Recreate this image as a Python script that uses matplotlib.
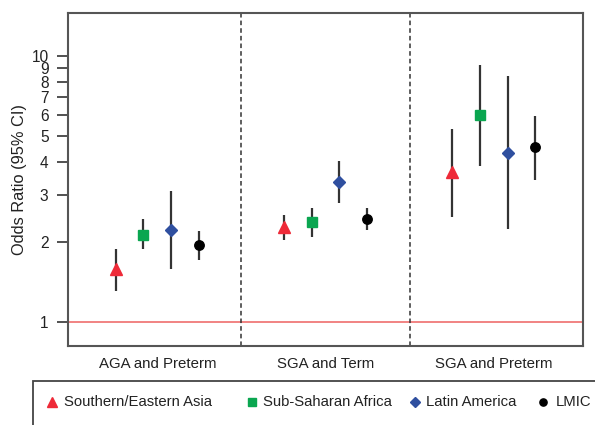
import numpy as np
import matplotlib
matplotlib.use("Agg")
import matplotlib.pyplot as plt
from matplotlib.patches import Rectangle
from matplotlib.lines import Line2D

plt.rcParams["font.family"] = ["Liberation Sans", "DejaVu Sans"]

groups = ["AGA and Preterm", "SGA and Term", "SGA and Preterm"]
regions = ["Southern/Eastern Asia", "Sub-Saharan Africa", "Latin America", "LMIC"]

# odds ratios and 95% CI per region, one value per group
or_asia = [1.58, 2.28, 3.66]
lo_asia = [1.31, 2.03, 2.48]
hi_asia = [1.88, 2.53, 5.32]

or_africa = [2.12, 2.38, 6.0]
lo_africa = [1.88, 2.09, 3.86]
hi_africa = [2.44, 2.68, 9.25]

or_latam = [2.22, 3.36, 4.32]
lo_latam = [1.58, 2.80, 2.24]
hi_latam = [3.11, 4.03, 8.41]

or_lmic = [1.95, 2.44, 4.55]
lo_lmic = [1.70, 2.22, 3.42]
hi_lmic = [2.20, 2.68, 5.95]

yticks = [1, 2, 3, 4, 5, 6, 7, 8, 9, 10]

# (values, low, high, marker, colour, plot size, legend size)
series = [
    (or_asia, lo_asia, hi_asia, "^", "#ee2a38", 8.8, 6.8),
    (or_africa, lo_africa, hi_africa, "s", "#0aa650", 7.2, 5.2),
    (or_latam, lo_latam, hi_latam, "D", "#2f4f9f", 6.2, 4.8),
    (or_lmic, lo_lmic, hi_lmic, "o", "black", 6.8, 5.2),
]

fig = plt.figure(figsize=(5.95, 4.25), dpi=100)
ax = fig.add_axes([68 / 595, 1 - 346 / 425, 515 / 595, 333 / 425])

gx = np.arange(1, len(groups) + 1)
offsets = [-1.5, -0.5, 0.5, 1.5]
step = 0.165
for (vals, lo, hi, mk, col, ms, _), off in zip(series, offsets):
    x = gx + off * step
    ax.vlines(x, lo, hi, color="#333333", lw=1.6, zorder=2)
    ax.plot(x, vals, ls="none", marker=mk, color=col, ms=ms, zorder=3)

ax.axhline(1, color="#f07a78", lw=1.3, zorder=1)
for d in [1.5, 2.5]:
    ax.axvline(d, color="#333333", ls=(0, (3, 2)), lw=1.1)

ax.set_yscale("log")
ax.set_ylim(0.81, 14.5)
ax.set_xlim(0.469, 3.531)
ax.set_yticks(yticks)
ax.set_yticklabels([str(t) for t in yticks])
ax.yaxis.set_minor_locator(matplotlib.ticker.NullLocator())
ax.set_xticks(gx)
ax.set_xticklabels(groups)
ax.tick_params(axis="x", length=0, pad=8, labelsize=10.8, colors="#222222")
ax.tick_params(axis="y", length=8, width=1.2, pad=6, labelsize=11.2, colors="#333333",
               labelcolor="#222222")
for s in ax.spines.values():
    s.set_color("#555555")
    s.set_linewidth(1.5)
ax.set_ylabel("Odds Ratio (95% CI)", fontsize=11.8, color="#222222")
ax.yaxis.set_label_coords(-0.079, 0.5)

# legend box running off the bottom/right edge
fig.patches.append(Rectangle((33 / 595, -0.05), 1.0, 0.05 + 1 - 381 / 425,
                             transform=fig.transFigure, fill=False,
                             edgecolor="#444444", lw=1.3))
mark_x = [52, 252, 415, 543]
text_x = [64, 263, 426, 556]
ly = 1 - 402 / 425
for (_, _, _, mk, col, _, lms), name, mx, tx in zip(series, regions, mark_x, text_x):
    fig.add_artist(Line2D([mx / 595], [ly], ls="none", marker=mk, color=col, ms=lms,
                          transform=fig.transFigure))
    fig.text(tx / 595, ly, name, fontsize=10.7, color="#222222", va="center", ha="left")

fig.savefig("out.png", dpi=100)
